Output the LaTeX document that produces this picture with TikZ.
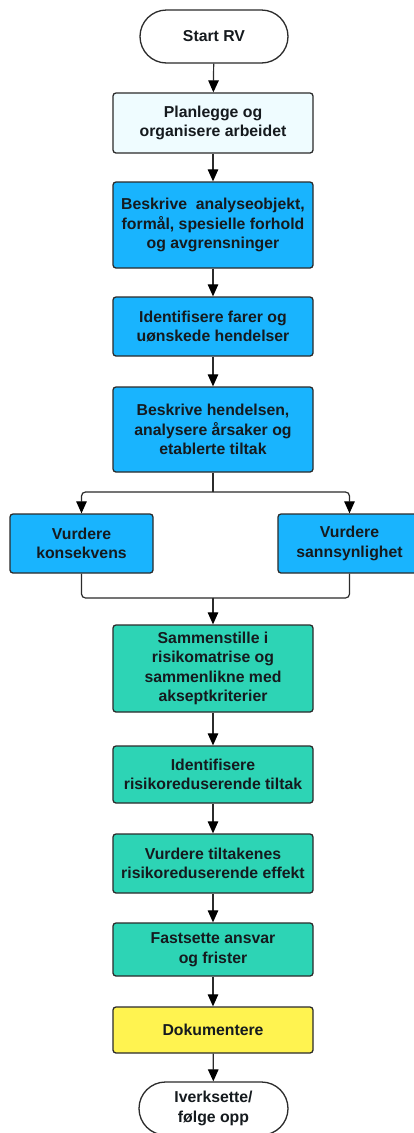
\documentclass[tikz,border=0pt]{standalone}
\usepackage{fontspec}
\setmainfont{Liberation Sans}
\usetikzlibrary{shapes.misc,arrows.meta}
\definecolor{bblue}{HTML}{19B4FE}
\definecolor{tteal}{HTML}{2DD4B5}
\definecolor{yyel}{HTML}{FFF350}
\definecolor{lcyan}{HTML}{EFFCFF}
\definecolor{edgec}{HTML}{2B2B2B}
\definecolor{txtc}{HTML}{151A1E}
\begin{document}
\begin{tikzpicture}[x=1pt,y=-1pt,
  lbl/.style={font=\fontsize{15.8}{19.5}\selectfont\bfseries,text=txtc,align=center},
  box/.style={lbl,draw=edgec,line width=1.3pt,rounded corners=3pt,minimum width=200pt,inner sep=0pt},
  bluebox/.style={box,fill=bblue},
  tealbox/.style={box,fill=tteal},
  term/.style={lbl,draw=edgec,line width=1.3pt,rounded rectangle,fill=white,minimum width=148pt,minimum height=53pt,inner sep=0pt},
  arr/.style={draw=edgec,line width=1.2pt,-{Triangle[length=12pt,width=10.5pt,fill=black,color=black]}},
  ln/.style={draw=edgec,line width=1.2pt,rounded corners=4pt}]
\useasboundingbox (0,0) rectangle (414,1133);
\fill[white] (0,0) rectangle (414,1133);
\clip (0,0) rectangle (414,1133);

\node[term] (start) at (214,36.5) {Start RV};
\node[box,fill=lcyan,minimum height=60pt] (plan) at (213,123) {Planlegge og\\organisere arbeidet};
\node[bluebox,minimum height=86pt] (b1) at (213,225) {Beskrive\ \ analyseobjekt,\\formål, spesielle forhold\\og avgrensninger};
\node[bluebox,minimum height=59pt] (b2) at (213,326.5) {Identifisere farer og\\uønskede hendelser};
\node[bluebox,minimum height=85pt] (b3) at (213,429.5) {Beskrive hendelsen,\\analysere årsaker og\\etablerte tiltak};
\node[bluebox,minimum width=143pt,minimum height=59pt] (vk) at (81.5,543.5) {Vurdere\\konsekvens};
\node[bluebox,minimum width=143pt,minimum height=59pt] (vs) at (349.5,543.5) {Vurdere\\sannsynlighet};
\node[tealbox,minimum height=87pt] (s1) at (213,668.5) {Sammenstille i\\risikomatrise og\\sammenlikne med\\akseptkriterier};
\node[tealbox,minimum height=57pt] (s2) at (213,774.5) {Identifisere\\risikoreduserende tiltak};
\node[tealbox,minimum height=59pt] (s3) at (213,863.5) {Vurdere tiltakenes\\risikoreduserende effekt};
\node[tealbox,minimum height=53pt] (s4) at (213,949.5) {Fastsette ansvar\\og frister};
\node[box,fill=yyel,minimum height=46pt] (dok) at (213,1030) {Dokumentere};
\node[term,minimum width=149pt] (end) at (213.5,1108.5) {Iverksette/\\følge opp};

\coordinate (split) at (213,492);
\coordinate (merge) at (213,598);

\draw[arr] (start) -- (plan);
\draw[arr] (plan) -- (b1);
\draw[arr] (b1) -- (b2);
\draw[arr] (b2) -- (b3);
\draw[ln] (b3.south) -- (split);
\draw[arr,rounded corners=4pt] (split) -| (vk.north);
\draw[arr,rounded corners=4pt] (split) -| (vs.north);
\draw[ln] (vk.south) |- (merge);
\draw[ln] (vs.south) |- (merge);
\draw[arr] (merge) -- (s1.north);
\draw[arr] (s1) -- (s2);
\draw[arr] (s2) -- (s3);
\draw[arr] (s3) -- (s4);
\draw[arr] (s4) -- (dok);
\draw[arr] (dok) -- (end);
\end{tikzpicture}
\end{document}
